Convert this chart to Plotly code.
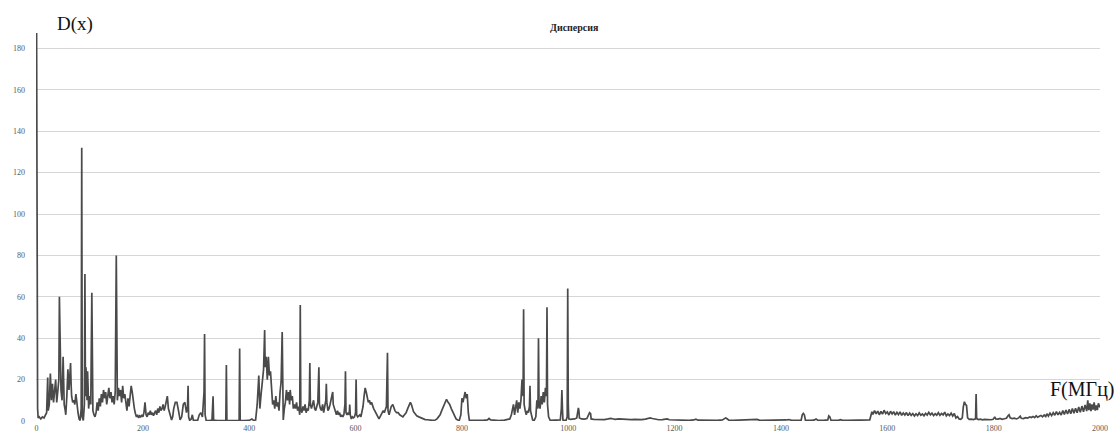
import plotly.graph_objects as go

# ---------------- data: (frequency MHz, dispersion D(x)) ----------------
seg_0_400 = [
    (0, 200), (1, 40), (2, 6), (3, 1.5), (5, 2), (8, 1), (11, 2), (14, 1.5), (17, 3), (19, 4),
    (21, 21), (22, 5), (24, 8), (26, 23), (28, 10), (30, 18), (32, 9), (34, 16), (36, 20), (38, 9),
    (40, 14), (42, 20), (43, 60), (44, 40), (45, 46), (46, 15), (48, 10), (50, 31), (51, 20), (52, 8),
    (54, 5), (55, 3), (57, 12), (59, 25), (61, 15), (62, 22), (64, 28), (65, 18), (66, 12), (68, 9),
    (70, 10), (72, 8), (74, 13), (75, 11), (76, 8), (78, 4), (80, 1), (82, 0.3), (84, 6), (85, 132),
    (86, 2), (88, 0.3), (90, 8), (91, 71), (92, 12), (93, 26), (95, 10), (96, 24), (97, 16), (98, 6),
    (100, 12), (102, 8), (104, 62), (105, 10), (106, 5), (108, 3), (110, 2), (112, 4), (114, 9), (116, 5),
    (118, 11), (120, 7), (122, 13), (124, 9), (126, 15), (128, 11), (130, 14), (132, 8), (134, 12), (136, 16),
    (138, 11), (140, 14), (142, 9), (144, 12), (146, 8), (148, 14), (150, 80), (152, 10), (154, 16), (156, 12),
    (158, 15), (160, 9), (162, 17), (164, 11), (166, 13), (168, 8), (170, 5), (172, 11), (174, 7), (176, 12),
    (178, 17), (180, 14), (182, 9), (184, 6), (186, 3.5), (188, 2), (190, 3), (192, 1.5), (194, 2.5), (196, 2),
    (198, 3), (200, 2), (202, 4), (204, 9), (206, 3), (208, 2), (210, 4), (212, 3), (214, 5), (216, 3),
    (218, 4), (220, 2.5), (222, 4), (224, 5), (226, 3), (228, 6), (230, 4), (232, 7), (234, 5), (236, 6),
    (238, 8), (240, 5), (242, 7), (244, 9), (246, 12), (248, 6), (250, 4), (252, 1.5), (254, 0.5), (256, 2),
    (258, 6), (261, 9), (264, 9), (267, 5), (270, 0.5), (273, 2), (276, 8), (279, 9), (282, 4), (284, 7),
    (285, 17), (286, 2), (288, 0.3), (291, 1), (293, 3), (295, 0.3), (298, 0.2), (303, 0.3), (306, 3), (309, 4),
    (312, 2), (315, 14), (316, 42), (317, 3), (319, 0.3), (325, 0.2), (330, 0.5), (332, 12), (333, 0.5), (340, 0.2),
    (350, 0.2), (356, 0.3), (357, 27), (358, 0.3), (365, 0.2), (375, 0.2), (381, 0.3), (382, 35), (383, 0.3), (390, 0.2),
]

seg_400_800 = [
    (400, 0.3), (405, 1), (408, 0.3), (412, 0.5), (415, 8), (418, 22), (420, 6), (422, 12), (424, 18), (427, 25),
    (429, 44), (430, 26), (432, 31), (434, 20), (436, 31), (438, 22), (440, 24), (442, 14), (444, 8), (446, 10),
    (448, 6), (450, 12), (452, 7), (454, 9), (456, 5), (458, 14), (460, 19), (462, 43), (463, 8), (464, 0.5),
    (466, 6), (468, 9), (470, 15), (472, 10), (474, 14), (476, 8), (477, 15), (479, 10), (481, 12), (483, 6),
    (485, 8), (487, 6), (489, 9), (491, 5), (493, 7), (495, 3), (496, 56), (497, 6), (499, 4), (501, 7),
    (503, 5), (505, 8), (507, 4), (509, 6), (511, 5), (513, 10), (514, 28), (515, 8), (517, 6), (519, 9),
    (521, 10), (523, 6), (525, 5), (527, 7), (529, 9), (531, 26), (532, 8), (534, 6), (536, 5), (538, 8),
    (540, 4), (542, 7), (544, 10), (545, 18), (546, 9), (548, 5), (550, 6), (552, 8), (554, 10), (556, 13),
    (557, 14), (558, 8), (560, 6), (562, 4), (564, 3), (566, 5), (568, 3), (570, 4), (572, 2), (574, 3),
    (576, 2), (578, 3), (580, 8), (581, 24), (582, 4), (584, 3), (586, 4), (588, 3), (589, 8), (590, 3),
    (592, 1), (594, 2), (596, 1.5), (598, 2), (600, 4), (601, 20), (602, 3), (604, 2), (606, 2.5), (608, 3),
    (610, 2), (612, 4), (614, 7), (616, 12), (618, 16), (620, 14), (622, 11), (624, 9), (626, 10), (628, 8),
    (630, 9), (632, 7), (634, 6), (636, 5), (638, 4), (640, 3), (642, 1.5), (644, 1), (646, 2), (648, 3),
    (650, 4), (652, 5), (654, 4), (656, 6), (658, 7), (660, 33), (661, 5), (663, 3), (665, 6), (667, 7),
    (670, 8), (672, 6), (674, 5), (677, 4), (680, 4), (683, 3), (686, 2.5), (689, 2), (692, 3), (695, 4),
    (698, 6), (701, 8), (703, 9), (705, 8), (707, 6), (709, 4.5), (712, 3.5), (715, 2.5), (719, 2), (723, 1.5),
    (727, 1), (731, 0.7), (735, 0.6), (740, 0.4), (745, 0.3), (750, 0.5), (753, 1), (756, 2), (759, 3), (762, 5),
    (765, 7), (768, 9), (771, 10.5), (774, 9), (777, 8), (780, 6), (783, 4), (786, 2), (789, 1), (792, 0.5),
    (795, 0.3), (798, 3),
]

seg_800_1050 = [
    (800, 11), (802, 9), (804, 12), (806, 14), (808, 11), (810, 13), (812, 4), (814, 0.3), (820, 0.3), (830, 0.2),
    (840, 0.3), (848, 0.5), (851, 1.2), (854, 0.5), (860, 0.3), (870, 0.2), (880, 0.4), (886, 0.8), (890, 1), (893, 3),
    (895, 6), (897, 8), (899, 3), (901, 7), (903, 10), (905, 4), (907, 9), (909, 6), (911, 10), (913, 20),
    (915, 12), (916, 54), (917, 8), (919, 5), (921, 3), (923, 5), (925, 4), (927, 7), (928, 17), (929, 5),
    (931, 2), (933, 0.5), (936, 0.3), (939, 2), (941, 10), (943, 6), (944, 40), (945, 9), (947, 6), (949, 12),
    (951, 8), (953, 14), (955, 9), (957, 16), (959, 12), (960, 55), (961, 8), (963, 2), (966, 0.3), (970, 0.3),
    (975, 0.2), (980, 0.3), (985, 0.5), (987, 6), (988, 15), (989, 6), (990, 0.5), (993, 0.3), (996, 0.4), (998, 2),
    (999, 64), (1000, 8), (1001, 1), (1004, 0.8), (1008, 0.9), (1012, 1), (1016, 1.5), (1018, 6), (1019, 6.3), (1020, 5),
    (1021, 1.5), (1025, 1), (1030, 0.9), (1035, 1.2), (1038, 3), (1040, 4), (1042, 3.5), (1043, 1),
]

seg_1050_1570 = [
    (1048, 0.8), (1055, 0.7), (1062, 0.9), (1068, 0.7), (1075, 1), (1080, 1.3), (1083, 1.1), (1088, 0.8), (1095, 1),
    (1100, 0.9), (1106, 0.8), (1112, 1), (1118, 0.7), (1125, 0.8), (1132, 0.6), (1138, 0.7), (1145, 0.9), (1150, 1.3),
    (1154, 1.5), (1158, 1.2), (1163, 0.8), (1170, 0.6), (1177, 0.7), (1183, 0.9), (1186, 1), (1190, 0.6), (1197, 0.5),
    (1205, 0.4), (1212, 0.3), (1220, 0.4), (1228, 0.3), (1236, 0.5), (1240, 0.9), (1244, 0.4), (1252, 0.3), (1260, 0.3),
    (1270, 0.4), (1280, 0.3), (1290, 0.5), (1296, 1.5), (1298, 1.2), (1302, 0.4), (1310, 0.3), (1320, 0.4), (1330, 0.3),
    (1340, 0.3), (1350, 0.5), (1355, 0.8), (1360, 0.3), (1370, 0.3), (1380, 0.4), (1390, 0.3), (1400, 0.3), (1410, 0.5),
    (1415, 0.7), (1420, 0.3), (1430, 0.3), (1438, 0.4), (1440, 3), (1442, 3.7), (1444, 3), (1446, 0.4), (1455, 0.3),
    (1462, 0.4), (1466, 1), (1470, 0.3), (1480, 0.3), (1488, 0.5), (1490, 2.5), (1492, 2), (1494, 0.4), (1500, 0.3),
    (1508, 0.3), (1512, 0.6), (1516, 0.3), (1525, 0.3), (1535, 0.4), (1545, 0.5), (1550, 0.3), (1560, 0.4), (1567, 0.5),
]

seg_1570_1800 = [
    (1571, 4.5), (1573, 3.2), (1576, 5), (1579, 3.5), (1582, 4.8), (1585, 3), (1588, 4.6), (1591, 3.3), (1594, 5.2),
    (1597, 3.6), (1600, 4.4), (1603, 2.9), (1606, 4.7), (1609, 3.4), (1612, 4.5), (1615, 2.8), (1618, 4.2), (1621, 3.1),
    (1624, 4.4), (1627, 2.7), (1630, 3.9), (1633, 2.9), (1636, 4.1), (1639, 2.6), (1642, 3.8), (1645, 2.7), (1648, 3.6),
    (1651, 2.4), (1654, 3.5), (1657, 2.6), (1660, 3.9), (1663, 2.8), (1666, 3.4), (1669, 2.5), (1672, 3.7), (1675, 2.9),
    (1678, 4.2), (1681, 3), (1684, 3.8), (1687, 2.6), (1690, 3.5), (1693, 2.8), (1696, 4), (1699, 2.7), (1702, 3.6),
    (1705, 2.9), (1708, 4.3), (1711, 2.5), (1714, 3.4), (1717, 2.6), (1720, 3.8), (1723, 2.4), (1726, 3.6), (1729, 1.5),
    (1732, 2.2), (1735, 1), (1738, 0.8), (1741, 1.5), (1743, 7), (1745, 9.3), (1747, 8), (1749, 7.5), (1751, 1.5),
    (1754, 0.8), (1758, 0.9), (1762, 0.7), (1766, 1), (1767, 13), (1768, 1.2), (1771, 0.7), (1775, 0.9), (1779, 0.6),
    (1783, 0.8), (1787, 0.7), (1791, 0.9), (1795, 0.6), (1799, 0.8),
]

seg_1800_2000 = [
    (1802, 2), (1804, 1), (1808, 0.9), (1812, 1.2), (1816, 0.8), (1820, 1.1), (1824, 1.3), (1827, 2.5), (1829, 3),
    (1831, 1.5), (1835, 1.2), (1839, 1.4), (1843, 1), (1847, 1.5), (1850, 2.3), (1852, 1.3), (1856, 1.2), (1860, 1.6),
    (1864, 1.4), (1868, 2), (1871, 1.7), (1874, 2.2), (1877, 1.6), (1880, 2.5), (1883, 1.8), (1886, 2.3), (1889, 2.7),
    (1892, 2), (1895, 2.9), (1898, 2.2), (1900, 3.5), (1903, 2.4), (1906, 3.8), (1909, 2.6), (1912, 4), (1915, 2.8),
    (1918, 4.5), (1921, 3), (1924, 4.2), (1927, 2.9), (1930, 5), (1933, 3.2), (1936, 5.3), (1939, 3.4), (1942, 5.6),
    (1945, 3.5), (1948, 6), (1951, 3.8), (1954, 6.2), (1957, 4), (1960, 6.8), (1963, 4.2), (1966, 7.2), (1969, 4.5),
    (1972, 7.8), (1975, 4.8), (1977, 10), (1979, 5.2), (1981, 8.5), (1983, 4.8), (1985, 8), (1987, 5.5), (1989, 9),
    (1991, 5), (1993, 7.5), (1995, 5.3), (1997, 8.5), (2000, 6.5),
]

x_tick_vals = [0, 200, 400, 600, 800, 1000, 1200, 1400, 1600, 1800, 2000]
y_tick_vals = [0, 20, 40, 60, 80, 100, 120, 140, 160, 180]

title_text = "Дисперсия"
y_label = "D(x)"
x_label = "F(МГц)"

# ---------------- build ----------------
all_points = seg_0_400 + seg_400_800 + seg_800_1050 + seg_1050_1570 + seg_1570_1800 + seg_1800_2000
freq = [p[0] for p in all_points]
disp = [p[1] for p in all_points]

fig = go.Figure()
fig.add_trace(go.Scatter(
    x=freq, y=disp, mode="lines",
    line=dict(color="#4a4a4a", width=1.7),
    showlegend=False, hoverinfo="skip",
))

W, H = 1119, 433
L, R, T, B = 36, 19, 33, 12
pw, ph = W - L - R, H - T - B


def px(xp):
    return (xp - L) / pw


def py(yp):
    return (H - B - yp) / ph


fig.update_layout(
    width=W, height=H,
    margin=dict(l=L, r=R, t=T, b=B, pad=0, autoexpand=False),
    paper_bgcolor="white", plot_bgcolor="white",
    xaxis=dict(
        range=[-1, 2000], tickmode="array", tickvals=x_tick_vals,
        showgrid=False, zeroline=False, showline=False, ticks="",
        tickfont=dict(family="Liberation Serif", size=8, color="#595959"),
        ticklabelstandoff=1, automargin=False,
    ),
    yaxis=dict(
        range=[0, 187.5], tickmode="array", tickvals=y_tick_vals,
        showgrid=True, gridcolor="#d6d6d6", gridwidth=1,
        zeroline=False, showline=False, ticks="",
        tickfont=dict(family="Liberation Serif", size=8, color="#595959"),
        ticklabelstandoff=10, automargin=False,
    ),
    annotations=[
        dict(text=f"<b>{title_text}</b>", x=px(574), y=py(27), xref="paper", yref="paper",
             showarrow=False, xanchor="center", yanchor="middle",
             font=dict(family="Liberation Serif", size=10, color="#222222")),
        dict(text=y_label, x=px(75), y=py(24), xref="paper", yref="paper",
             showarrow=False, xanchor="center", yanchor="middle",
             font=dict(family="Liberation Serif", size=19, color="#111111")),
        dict(text=x_label, x=px(1082), y=py(389), xref="paper", yref="paper",
             showarrow=False, xanchor="center", yanchor="middle",
             font=dict(family="Liberation Serif", size=20, color="#111111")),
    ],
)

fig.write_html(
    "out.html",
    config={"displayModeBar": False},
    post_script="document.body.style.margin='0';document.body.style.padding='0';",
)
